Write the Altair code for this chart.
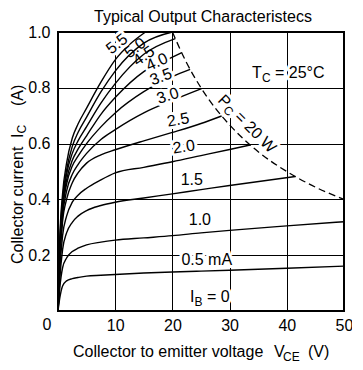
import altair as alt
import pandas as pd

FONT = "Liberation Sans"

# ---------------- data ----------------
ib_names = ["0.5", "1.0", "1.5", "2.0", "2.5", "3.0", "3.5", "4.0", "4.5", "5.0", "5.5"]

ib_05_v = [0, 0.3, 0.8, 1.5, 2.5, 3.5, 5, 7.5, 10, 15, 20, 25, 30, 40, 50]
ib_05_i = [0, 0.045, 0.09, 0.108, 0.116, 0.12, 0.125, 0.128, 0.131, 0.136, 0.14, 0.143, 0.146, 0.153, 0.161]

ib_10_v = [0, 0.3, 0.8, 1.5, 2.5, 3.5, 5, 7.5, 10, 15, 20, 25, 30, 40, 50]
ib_10_i = [0, 0.08, 0.155, 0.19, 0.213, 0.225, 0.237, 0.247, 0.254, 0.262, 0.27, 0.28, 0.289, 0.305, 0.32]

ib_15_v = [0, 0.3, 0.8, 1.5, 2.5, 3.5, 5, 7.5, 10, 15, 20, 25, 30, 41.5]
ib_15_i = [0, 0.11, 0.22, 0.28, 0.318, 0.34, 0.36, 0.378, 0.39, 0.405, 0.42, 0.435, 0.45, 0.482]

ib_20_v = [0, 0.3, 0.8, 1.5, 2.5, 3.5, 5, 7.5, 10, 15, 20, 25, 30, 33.6]
ib_20_i = [0, 0.14, 0.27, 0.34, 0.39, 0.415, 0.44, 0.47, 0.495, 0.515, 0.535, 0.557, 0.579, 0.595]

ib_25_v = [0, 0.3, 0.8, 1.5, 2.5, 3.5, 5, 7.5, 10, 15, 20, 25, 28.6]
ib_25_i = [0, 0.17, 0.32, 0.4, 0.46, 0.495, 0.53, 0.56, 0.578, 0.61, 0.64, 0.672, 0.699]

ib_30_v = [0, 0.3, 0.8, 1.5, 2.5, 3.5, 5, 7.5, 10, 15, 20, 25.1]
ib_30_i = [0, 0.19, 0.34, 0.43, 0.49, 0.525, 0.565, 0.615, 0.65, 0.71, 0.755, 0.797]

ib_35_v = [0, 0.3, 0.8, 1.5, 2.5, 3.5, 5, 7.5, 10, 15, 20, 23.1]
ib_35_i = [0, 0.2, 0.36, 0.455, 0.52, 0.555, 0.6, 0.66, 0.71, 0.786, 0.84, 0.866]

ib_40_v = [0, 0.3, 0.8, 1.5, 2.5, 3.5, 5, 7.5, 10, 15, 20, 21.6]
ib_40_i = [0, 0.21, 0.37, 0.47, 0.54, 0.58, 0.628, 0.705, 0.765, 0.858, 0.91, 0.926]

ib_45_v = [0, 0.3, 0.8, 1.5, 2.5, 3.5, 5, 7.5, 10, 15, 20.5]
ib_45_i = [0, 0.22, 0.385, 0.49, 0.565, 0.61, 0.661, 0.745, 0.815, 0.92, 0.976]

ib_50_v = [0, 0.3, 0.8, 1.5, 2.5, 3.5, 5, 7.5, 10, 15, 20]
ib_50_i = [0, 0.235, 0.4, 0.505, 0.59, 0.64, 0.695, 0.785, 0.86, 0.96, 1.0]

ib_55_v = [0, 0.3, 0.8, 1.5, 2.5, 3.5, 5, 7.5, 10, 12.5, 15.3]
ib_55_i = [0, 0.25, 0.42, 0.53, 0.62, 0.67, 0.727, 0.82, 0.9, 0.955, 1.0]

# Pc = 20 W dissipation limit
pc_v = [20, 22.5, 25, 27.5, 30, 35, 40, 45, 50]
pc_i = [1.0, 0.889, 0.8, 0.727, 0.667, 0.571, 0.5, 0.444, 0.4]

# curve labels
lab_text = ["5.5", "5.0", "4.5", "4.0", "3.5", "3.0", "2.5", "2.0", "1.5", "1.0", "0.5 mA"]
lab_v = [10.3, 13.5, 15.0, 17.3, 18.0, 19.2, 21.0, 22.0, 23.4, 24.8, 26.0]
lab_i = [0.957, 0.943, 0.914, 0.892, 0.839, 0.771, 0.685, 0.588, 0.47, 0.326, 0.183]
lab_angle = [322, 322, 325, 335, 340, 342, 350, 352, 0, 0, 0]
lab_halo = [True, False, False, True, True, True, True, True, True, True, True]

x_grid = [0, 5, 10, 15, 20, 25, 30, 35, 40, 45, 50]
y_grid = [0, 0.1, 0.2, 0.3, 0.4, 0.5, 0.6, 0.7, 0.8, 0.9, 1.0]

# ---------------- build tables ----------------
series = [ib_05_v, ib_10_v, ib_15_v, ib_20_v, ib_25_v, ib_30_v, ib_35_v, ib_40_v, ib_45_v, ib_50_v, ib_55_v]
values = [ib_05_i, ib_10_i, ib_15_i, ib_20_i, ib_25_i, ib_30_i, ib_35_i, ib_40_i, ib_45_i, ib_50_i, ib_55_i]
rows = []
for name, vs, is_ in zip(ib_names, series, values):
    for v, i in zip(vs, is_):
        rows.append({"ib": name, "V": v, "I": i})
df = pd.DataFrame(rows)
pc_df = pd.DataFrame({"V": pc_v, "I": pc_i})
lab_df = pd.DataFrame({"text": lab_text, "V": lab_v, "I": lab_i, "angle": lab_angle, "halo": lab_halo})
one = pd.DataFrame({"a": [0]})

xs = alt.Scale(domain=[0, 50], nice=False, zero=False)
ys = alt.Scale(domain=[0, 1], nice=False, zero=False)

xaxis = alt.Axis(values=x_grid, title=None, grid=True, gridColor="black", gridOpacity=1, gridWidth=1,
                 domain=False, ticks=False, tickSize=0, labelFontSize=16, labelFont=FONT,
                 labelColor="black", labelPadding=6, labelFlush=False, labelOverlap=False,
                 labelExpr="datum.value % 10 == 0 && datum.value > 0 ? datum.label : ''")
yaxis = alt.Axis(values=y_grid, title=None, grid=True, gridColor="black", gridOpacity=1, gridWidth=1,
                 domain=False, ticks=False, tickSize=0, labelFontSize=16, labelFont=FONT,
                 labelColor="black", labelPadding=8, labelFlush=False, labelOverlap=False,
                 labelExpr="datum.value > 0.05 && round(datum.value * 10) % 2 == 0 ? format(datum.value, '.1f') : ''")

curves = alt.Chart(df).mark_line(color="black", strokeWidth=1.4, interpolate="monotone").encode(
    x=alt.X("V:Q", scale=xs, axis=xaxis),
    y=alt.Y("I:Q", scale=ys, axis=yaxis),
    detail="ib:N",
    order="V:Q",
)

pc_line = alt.Chart(pc_df).mark_line(color="black", strokeWidth=1.3, strokeDash=[7, 4],
                                     interpolate="monotone").encode(
    x=alt.X("V:Q", scale=xs), y=alt.Y("I:Q", scale=ys))

lab_halo_l = alt.Chart(lab_df).transform_filter("datum.halo").mark_text(
    font=FONT, fontSize=16, align="center", baseline="middle",
    fill="white", stroke="white", strokeWidth=6, strokeJoin="round").encode(
    x=alt.X("V:Q", scale=xs), y=alt.Y("I:Q", scale=ys), text="text:N",
    angle=alt.Angle("angle:Q", scale=None))
lab_text_l = alt.Chart(lab_df).mark_text(
    font=FONT, fontSize=16, align="center", baseline="middle", color="black").encode(
    x=alt.X("V:Q", scale=xs), y=alt.Y("I:Q", scale=ys), text="text:N",
    angle=alt.Angle("angle:Q", scale=None))

halos = []
texts = []


def txt(s, x, y, size=16, angle=0, align="left", baseline="alphabetic", halo=False):
    kw = dict(font=FONT, fontSize=size, align=align, baseline=baseline)
    if angle:
        kw["angle"] = angle
    enc = dict(x=alt.value(x), y=alt.value(y), text=alt.value(s))
    if halo:
        halos.append(alt.Chart(one).mark_text(fill="white", stroke="white", strokeWidth=6,
                                              strokeJoin="round", **kw).encode(**enc))
    texts.append(alt.Chart(one).mark_text(color="black", **kw).encode(**enc))


# title
txt("Typical Output Characteristecs", 145, -10, align="center")
# origin label
txt("0", -11, 293, align="center", baseline="middle")
# x title
txt("Collector to emitter voltage", 15, 325)
txt("V", 216, 325)
txt("CE", 225, 329, size=12)
txt("(V)", 250, 325)
# y title (rotated)
txt("Collector current", -35, 232, angle=270)
txt("I", -35, 106, angle=270)
txt("C", -32, 101.6, size=12, angle=270)
txt("(A)", -35, 74, angle=270)
# Tc
txt("T", 194, 46, halo=True)
txt("C", 204, 50, size=12, halo=True)
txt("= 25°C", 217, 46, halo=True)
# IB = 0
txt("I", 132, 270, halo=True)
txt("B", 136.5, 274, size=12, halo=True)
txt("= 0", 149, 270, halo=True)
# Pc = 20 W
txt("P", 159, 69, angle=45, halo=True)
txt("C", 164.4, 78.7, size=12, angle=45, halo=True)
txt("= 20 W", 175.8, 85.8, angle=45, halo=True)

chart = alt.layer(curves, pc_line, lab_halo_l, *halos, lab_text_l, *texts).properties(
    width=286, height=279,
    autosize=alt.AutoSizeParams(type="none"),
    padding={"left": 50, "top": 24, "right": 8, "bottom": 54},
    background="white",
).configure_view(stroke="black", strokeWidth=2)

chart.save("out.html", embed_options={"renderer": "svg", "actions": False})
